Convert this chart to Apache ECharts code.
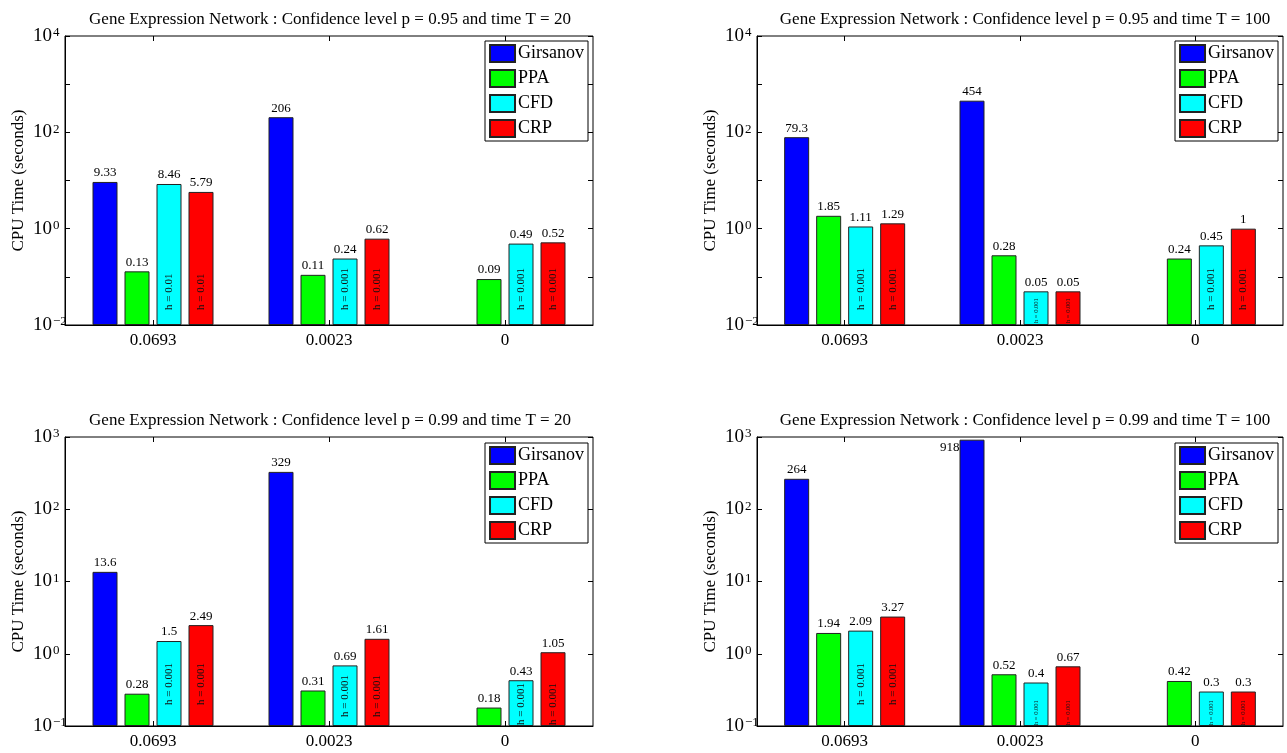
<!DOCTYPE html>
<html><head><meta charset="utf-8">
<script src="https://cdn.jsdelivr.net/npm/echarts@6/dist/echarts.min.js"></script>
<style>html,body{margin:0;padding:0;background:#fff;}#c{width:1287px;height:753px;}</style>
</head><body><div id="c"></div>
<script>
// ---------- DATA ----------
const categories = ['0.0693', '0.0023', '0'];
const seriesNames = ['Girsanov', 'PPA', 'CFD', 'CRP'];

// Panel 1: p = 0.95, T = 20
const p95t20_girsanov = [9.33, 206, null];
const p95t20_ppa      = [0.13, 0.11, 0.09];
const p95t20_cfd      = [8.46, 0.24, 0.49];
const p95t20_crp      = [5.79, 0.62, 0.52];
const p95t20_h        = ['h = 0.01', 'h = 0.001', 'h = 0.001'];

// Panel 2: p = 0.95, T = 100
const p95t100_girsanov = [79.3, 454, null];
const p95t100_ppa      = [1.85, 0.28, 0.24];
const p95t100_cfd      = [1.11, 0.05, 0.45];
const p95t100_crp      = [1.29, 0.05, 1];
const p95t100_h        = ['h = 0.001', 'h = 0.001', 'h = 0.001'];

// Panel 3: p = 0.99, T = 20
const p99t20_girsanov = [13.6, 329, null];
const p99t20_ppa      = [0.28, 0.31, 0.18];
const p99t20_cfd      = [1.5, 0.69, 0.43];
const p99t20_crp      = [2.49, 1.61, 1.05];
const p99t20_h        = ['h = 0.001', 'h = 0.001', 'h = 0.001'];

// Panel 4: p = 0.99, T = 100
const p99t100_girsanov = [264, 918, null];
const p99t100_ppa      = [1.94, 0.52, 0.42];
const p99t100_cfd      = [2.09, 0.4, 0.3];
const p99t100_crp      = [3.27, 0.67, 0.3];
const p99t100_h        = ['h = 0.001', 'h = 0.001', 'h = 0.001'];

// ---------- LAYOUT / STYLE ----------
const FONT = "'Liberation Serif','Times New Roman',serif";
const colors = ['#0000ff', '#00ff00', '#00ffff', '#ff0000'];

const panels = [
  { title: 'Gene Expression Network : Confidence level p = 0.95 and time T = 20',
    series: [p95t20_girsanov, p95t20_ppa, p95t20_cfd, p95t20_crp], h: p95t20_h,
    yMin: 0.01, yMax: 10000, step: 2,
    grid: { left: 65, top: 36, width: 528, height: 289 }, titleTop: 6, titleShift: -4, legend: { right: 699, top: 41 },
    hDist: [15, 15, 15], hSmall: [false, false, false], leftLabel: [] },
  { title: 'Gene Expression Network : Confidence level p = 0.95 and time T = 100',
    series: [p95t100_girsanov, p95t100_ppa, p95t100_cfd, p95t100_crp], h: p95t100_h,
    yMin: 0.01, yMax: 10000, step: 2,
    grid: { left: 757, top: 36, width: 526, height: 289 }, titleTop: 6, titleShift: 0, legend: { right: 9, top: 41 },
    hDist: [15, 2, 15], hSmall: [false, true, false], leftLabel: [] },
  { title: 'Gene Expression Network : Confidence level p = 0.99 and time T = 20',
    series: [p99t20_girsanov, p99t20_ppa, p99t20_cfd, p99t20_crp], h: p99t20_h,
    yMin: 0.1, yMax: 1000, step: 1,
    grid: { left: 65, top: 437, width: 528, height: 289 }, titleTop: 407, titleShift: -4, legend: { right: 699, top: 443 },
    hDist: [21, 9, 1], hSmall: [false, false, false], leftLabel: [] },
  { title: 'Gene Expression Network : Confidence level p = 0.99 and time T = 100',
    series: [p99t100_girsanov, p99t100_ppa, p99t100_cfd, p99t100_crp], h: p99t100_h,
    yMin: 0.1, yMax: 1000, step: 1,
    grid: { left: 757, top: 437, width: 526, height: 289 }, titleTop: 407, titleShift: 0, legend: { right: 9, top: 443 },
    hDist: [21, 1, 1], hSmall: [false, true, true], leftLabel: [[0, 1]] }
];

function expLabel(v, minExp, step) {
  const e = Math.round(Math.log10(v));
  if ((e - minExp) % step !== 0) return '';
  const s = e < 0 ? '\u2212' + (-e) : String(e);
  return '{b|10}{s|' + s + '}';
}

const option = {
  backgroundColor: '#fff',
  animation: false,
  title: [], grid: [], xAxis: [], yAxis: [], legend: [], series: []
};

panels.forEach((P, k) => {
  const g = P.grid;
  option.grid.push({ left: g.left, top: g.top, width: g.width, height: g.height,
    show: true, borderColor: '#000', borderWidth: 1, backgroundColor: '#fff', containLabel: false });
  option.title.push({ text: P.title, left: g.left + g.width / 2 + P.titleShift, top: P.titleTop, textAlign: 'center',
    textStyle: { fontFamily: FONT, fontSize: 17, fontWeight: 'normal', color: '#000' } });
  const minExp = Math.round(Math.log10(P.yMin));
  option.xAxis.push({ type: 'category', gridIndex: k, data: categories, position: 'bottom',
    axisLine: { show: true, lineStyle: { color: '#000', width: 1 } },
    axisTick: { show: true, inside: true, alignWithLabel: true, length: 5, lineStyle: { color: '#000' } },
    axisLabel: { fontFamily: FONT, fontSize: 17, color: '#000', margin: 7 } });
  option.xAxis.push({ type: 'category', gridIndex: k, data: categories, position: 'top',
    axisLine: { show: false },
    axisTick: { show: true, inside: true, alignWithLabel: true, length: 5, lineStyle: { color: '#000' } },
    axisLabel: { show: false } });
  option.yAxis.push({ type: 'log', gridIndex: k, logBase: 10, min: P.yMin, max: P.yMax, startValue: P.yMin,
    name: 'CPU Time (seconds)', nameLocation: 'middle', nameGap: 38,
    nameTextStyle: { fontFamily: FONT, fontSize: 17, color: '#000' },
    axisLine: { show: true, lineStyle: { color: '#000', width: 1 } },
    axisTick: { show: true, inside: true, length: 5, lineStyle: { color: '#000' } },
    splitLine: { show: false },
    axisLabel: { color: '#000', margin: 32, align: 'left', formatter: v => expLabel(v, minExp, P.step),
      rich: { b: { fontFamily: FONT, fontSize: 19, lineHeight: 19, verticalAlign: 'middle', color: '#000' },
              s: { fontFamily: FONT, fontSize: 13, lineHeight: 13, verticalAlign: 'top', padding: [0, 0, 18, 1], color: '#000' } } } });
  option.yAxis.push({ type: 'log', gridIndex: k, logBase: 10, min: P.yMin, max: P.yMax, position: 'right',
    axisLine: { show: false }, splitLine: { show: false }, axisLabel: { show: false },
    axisTick: { show: true, inside: true, length: 5, lineStyle: { color: '#000' } } });
  option.legend.push({ data: seriesNames.map(n => ({ name: n, icon: 'rect' })), orient: 'vertical',
    right: P.legend.right, top: P.legend.top,
    backgroundColor: '#fff', borderColor: '#000', borderWidth: 1, padding: [3, 4, 3, 4],
    itemWidth: 25, itemHeight: 17, itemGap: 6, selectedMode: false,
    textStyle: { fontFamily: FONT, fontSize: 18, color: '#000', padding: [0, 0, 0, -2] } });

  P.series.forEach((vals, s) => {
    const hasH = s >= 2;
    const data = vals.map((v, i) => {
      if (v == null) return null;
      if (!hasH) return v;
      return { value: v, label: { fontSize: P.hSmall[i] ? 6.5 : 11, distance: P.hDist[i] } };
    });
    const mp = [];
    vals.forEach((v, i) => {
      if (v == null) return;
      const item = { coord: [categories[i], v], value: v };
      if (P.leftLabel.some(a => a[0] === s && a[1] === i)) {
        item.label = { position: 'left', distance: 12, offset: [0, 8] };
      }
      mp.push(item);
    });
    option.series.push({
      type: 'bar', name: seriesNames[s], xAxisIndex: 2 * k, yAxisIndex: 2 * k,
      data: data, barWidth: 25, barGap: '28%',
      itemStyle: { color: colors[s], borderColor: '#222', borderWidth: 1 },
      label: hasH ? { show: true, position: 'insideBottom', rotate: 90, align: 'left', verticalAlign: 'middle',
        fontFamily: FONT, color: '#111', formatter: p => P.h[p.dataIndex] } : { show: false },
      emphasis: { disabled: true },
      markPoint: { symbol: 'rect', symbolSize: 1, silent: true, animation: false,
        itemStyle: { color: 'rgba(0,0,0,0)' },
        label: { show: true, position: 'top', distance: 2, fontFamily: FONT, fontSize: 13, color: '#000', formatter: '{c}' },
        data: mp }
    });
  });
});

const chart = echarts.init(document.getElementById('c'), null, { renderer: 'canvas' });
chart.setOption(option);
</script>
</body></html>
